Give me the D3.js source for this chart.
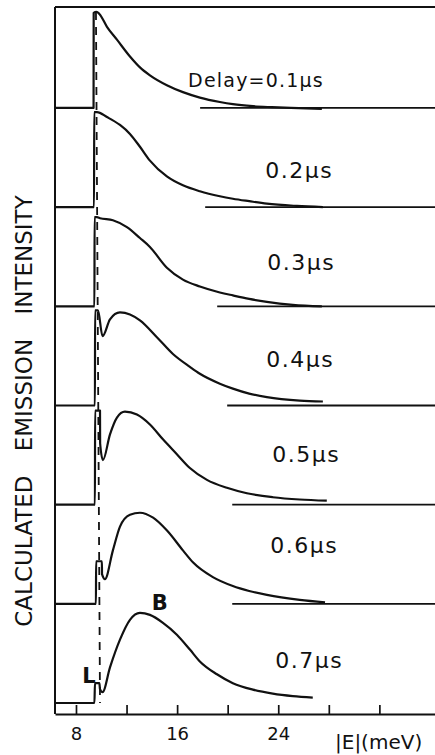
<!DOCTYPE html>
<html>
<head>
<meta charset="utf-8">
<script src="https://cdn.jsdelivr.net/npm/d3@7"></script>
<style>
  body { margin: 0; background: #fff; }
  text { font-family: "DejaVu Sans", sans-serif; fill: #111; }
</style>
</head>
<body>
<div id="chart"></div>
<script>
// delays (μs) and their labels
const delays = ["0.1", "0.2", "0.3", "0.4", "0.5", "0.6", "0.7"];
const delayLabels = ["Delay=0.1μs", "0.2μs", "0.3μs", "0.4μs", "0.5μs", "0.6μs", "0.7μs"];

// calculated intensity (arb. units, 1 = panel height) vs |E| (meV)
const curve01 = [[6.34,0],[9.39,0],[9.40,0.96],[9.62,0.97],[9.85,0.95],[10.45,0.82],[11.24,0.69],[12.27,0.52],[13.06,0.41],[13.85,0.33],[15.19,0.23],[16.46,0.16],[17.8,0.105],[19.38,0.06],[20.41,0.038],[22.0,0.018],[23.5,0.008],[25.0,0.0],[27.45,-0.01]];
const curve02 = [[6.34,0],[9.43,0],[9.44,0.96],[9.66,0.96],[10.45,0.91],[11.48,0.83],[12.27,0.74],[13.06,0.61],[13.85,0.47],[15.19,0.31],[16.46,0.22],[17.8,0.16],[19.38,0.11],[20.41,0.085],[21.7,0.06],[23.1,0.035],[25.47,0.012],[27.53,0]];
const curve03 = [[6.34,0],[9.46,0],[9.47,0.90],[9.66,0.90],[9.9,0.89],[10.92,0.87],[12.03,0.80],[13.06,0.69],[13.85,0.60],[15.19,0.39],[16.46,0.27],[17.8,0.20],[19.38,0.14],[20.41,0.11],[21.7,0.075],[23.1,0.045],[25.15,0.015],[27.45,0]];
const curve04 = [[6.34,0],[9.5,0],[9.51,0.96],[9.74,0.96],[10.1,0.70],[10.69,0.87],[11.48,0.94],[12.27,0.92],[13.06,0.86],[14.4,0.69],[15.67,0.52],[17.01,0.39],[17.8,0.32],[19.38,0.22],[20.41,0.17],[21.7,0.12],[23.1,0.085],[25.7,0.05],[27.53,0.04]];
const curve05 = [[6.34,0],[9.5,0],[9.51,0.95],[9.9,0.95],[9.91,0.62],[10.13,0.45],[10.69,0.71],[11.24,0.88],[11.87,0.94],[12.82,0.91],[13.85,0.81],[14.88,0.66],[15.98,0.51],[17.01,0.37],[18.36,0.25],[19.94,0.17],[21.52,0.115],[23.57,0.075],[25.7,0.052],[27.84,0.04]];
const curve06 = [[6.34,0],[9.58,0],[9.59,0.43],[10.05,0.43],[10.06,0.30],[10.29,0.25],[10.92,0.54],[11.48,0.78],[12.27,0.90],[13.06,0.92],[14.1,0.87],[15.2,0.74],[16.46,0.54],[17.25,0.42],[18.83,0.27],[20.41,0.18],[21.7,0.13],[23.1,0.09],[25.7,0.04],[27.7,0.015]];
const curve07 = [[6.34,0],[9.46,0],[9.5,0.20],[9.85,0.20],[9.9,0.14],[10.1,0.11],[10.69,0.36],[11.48,0.64],[12.27,0.84],[13.06,0.91],[13.85,0.89],[14.88,0.81],[15.98,0.69],[17.01,0.54],[17.8,0.42],[19.15,0.29],[20.41,0.20],[21.99,0.135],[23.57,0.095],[25.15,0.07],[26.73,0.055]];
const curves = [curve01, curve02, curve03, curve04, curve05, curve06, curve07];

// where the baseline resumes on the right of each panel (meV)
const tailStart = [17.82, 18.22, 19.17, 19.96, 20.36, 20.36, null];

// label anchors in data units: [|E|, intensity above the panel baseline]
const labelAt = [[16.87,0.21],[22.97,0.29],[23.13,0.37],[23.05,0.39],[23.52,0.43],[23.37,0.51],[23.76,0.35]];
const peakNotes = [{ text: "B", at: [14.0, 0.94] }, { text: "L", at: [8.5, 0.20] }];

// dashed marker (top |E|, bottom |E|)
const dashE = [9.58, 9.9];

const xExtent = [6.34, 36.4];
const xTicks = [8, 12, 16, 20, 24, 28, 32];
const xTickLabels = { 8: "8", 16: "16", 24: "24" };
const xTitle = "|E|(meV)";
const yTitle = "CALCULATED EMISSION INTENSITY";

const width = 435, height = 755;
const frameTop = 7, axisY = 714;

const svg = d3.select("#chart")
    .append("svg")
    .attr("width", width)
    .attr("height", height);

const x = d3.scaleLinear()
    .domain(xExtent)
    .range([55, 435]);

// one band per delay, stacked top to bottom
const band = d3.scaleBand()
    .domain(delays)
    .range([8.8, 703]);
const panelH = 99;
const baseline = d => band(d) + band.step();
const yIn = (d, v) => baseline(d) - v * panelH;

// frame
svg.append("line")
    .attr("x1", x(xExtent[0])).attr("x2", width)
    .attr("y1", frameTop).attr("y2", frameTop)
    .attr("stroke", "#111").attr("stroke-width", 2);
svg.append("line")
    .attr("x1", x(xExtent[0])).attr("x2", x(xExtent[0]))
    .attr("y1", frameTop).attr("y2", axisY)
    .attr("stroke", "#111").attr("stroke-width", 2);

// X axis
const xAxis = svg.append("g")
    .attr("transform", `translate(0,${axisY})`)
    .call(d3.axisBottom(x)
        .tickValues(xTicks)
        .tickSize(-9)
        .tickSizeOuter(0)
        .tickPadding(13)
        .tickFormat(d => xTickLabels[d] || ""));
xAxis.select(".domain").attr("stroke", "#111").attr("stroke-width", 2);
xAxis.selectAll(".tick line").attr("stroke", "#111").attr("stroke-width", 1.7);
xAxis.selectAll(".tick text")
    .attr("font-family", "DejaVu Sans, sans-serif")
    .attr("font-size", 18)
    .attr("fill", "#111");

svg.append("text")
    .attr("x", 335).attr("y", 749)
    .attr("font-size", 20)
    .text(xTitle);

// Y title
svg.append("text")
    .attr("transform", `translate(32,411) rotate(-90)`)
    .attr("text-anchor", "middle")
    .attr("font-size", 23)
    .attr("word-spacing", 17)
    .text(yTitle);

// curves
const line = d3.line()
    .x(p => x(p[0]))
    .curve(d3.curveMonotoneX);

delays.forEach((d, i) => {
    const g = svg.append("g");

    g.append("path")
        .attr("d", line.y(p => yIn(d, p[1]))(curves[i]))
        .attr("fill", "none")
        .attr("stroke", "#111")
        .attr("stroke-width", 2.2)
        .attr("stroke-linejoin", "round");

    if (tailStart[i] !== null) {
        g.append("line")
            .attr("x1", x(tailStart[i])).attr("x2", width)
            .attr("y1", baseline(d)).attr("y2", baseline(d))
            .attr("stroke", "#111").attr("stroke-width", 1.8);
    }

    g.append("text")
        .attr("x", x(labelAt[i][0]))
        .attr("y", yIn(d, labelAt[i][1]))
        .attr("font-size", i === 0 ? 19 : 22)
        .attr("letter-spacing", i === 0 ? 1.2 : 1.5)
        .text(delayLabels[i]);
});

// peak notes on the last panel
const last = delays[delays.length - 1];
svg.selectAll(".note")
    .data(peakNotes)
    .join("text")
    .attr("class", "note")
    .attr("x", n => x(n.at[0]))
    .attr("y", n => yIn(last, n.at[1]))
    .attr("font-size", 21)
    .attr("font-weight", "bold")
    .text(n => n.text);

// dashed marker
svg.append("line")
    .attr("x1", x(dashE[0])).attr("y1", frameTop + 5)
    .attr("x2", x(dashE[1])).attr("y2", baseline(last))
    .attr("stroke", "#111")
    .attr("stroke-width", 1.8)
    .attr("stroke-dasharray", "8,7");
</script>
</body>
</html>
